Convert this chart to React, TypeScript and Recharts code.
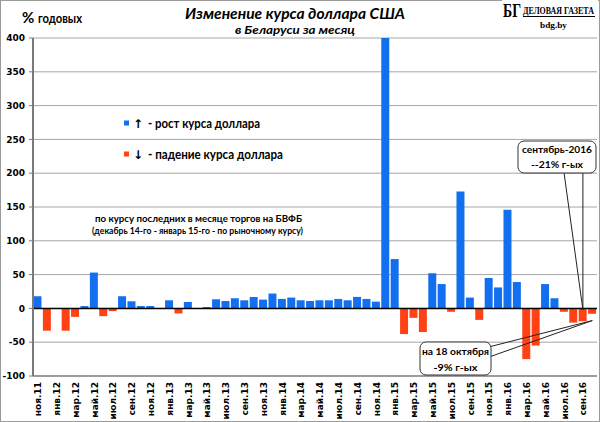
import React from "react";
import {
  BarChart,
  Bar,
  Cell,
  XAxis,
  YAxis,
  CartesianGrid,
  ReferenceLine,
} from "recharts";

const months = [
  "ноя.11", "дек.11",
  "янв.12", "фев.12", "мар.12", "апр.12", "май.12", "июн.12",
  "июл.12", "авг.12", "сен.12", "окт.12", "ноя.12", "дек.12",
  "янв.13", "фев.13", "мар.13", "апр.13", "май.13", "июн.13",
  "июл.13", "авг.13", "сен.13", "окт.13", "ноя.13", "дек.13",
  "янв.14", "фев.14", "мар.14", "апр.14", "май.14", "июн.14",
  "июл.14", "авг.14", "сен.14", "окт.14", "ноя.14", "дек.14",
  "янв.15", "фев.15", "мар.15", "апр.15", "май.15", "июн.15",
  "июл.15", "авг.15", "сен.15", "окт.15", "ноя.15", "дек.15",
  "янв.16", "фев.16", "мар.16", "апр.16", "май.16", "июн.16",
  "июл.16", "авг.16", "сен.16", "окт.16",
];

// % годовых, изменение курса за месяц
const changes = [
  18, -33,
  0, -33, -12.5, 3.5, 53, -11.5,
  -4, 18, 10.5, 3.5, 3.5, 0,
  12, -7.5, 9.5, 0, 2, 13.5,
  11, 15, 12, 17, 13, 22,
  14, 16, 12, 11, 12, 12,
  14, 12, 17, 14, 10, 400,
  73, -38, -14, -35, 52, 36,
  -5, 173, 16, -17, 45, 31,
  146, 39, -75, -55, 36, 15,
  -5, -21, -19, -8,
];

const yTicks = [-100, -50, 0, 50, 100, 150, 200, 250, 300, 350, 400];

const UP = "#1270f0";
const DOWN = "#ff4215";

const data = months.map((month, i) => ({ month, value: changes[i] }));

const MonthTick = ({ x, y, payload }: any) => (
  <text
    transform={`translate(${x + 3.5},${y}) rotate(-90)`}
    textAnchor="end"
    fontSize={9}
    fontWeight="bold"
    fontFamily="DejaVu Sans"
    fill="#000"
  >
    {payload.value}
  </text>
);

const calibri = "Lato, 'Open Sans', sans-serif";

export default function App() {
  return (
    <div style={{ position: "absolute", left: 0, top: 0, width: 600, height: 422, background: "#fff" }}>
      <BarChart
        width={600}
        height={422}
        data={data}
        margin={{ top: 38, right: 3, bottom: 0, left: 0 }}
        barCategoryGap="5%"
      >
        <CartesianGrid vertical={false} stroke="#a6a6a6" />
        <XAxis
          dataKey="month"
          interval={1}
          height={46}
          tickLine={false}
          tickSize={4}
          tickMargin={2}
          axisLine={{ stroke: "#8a8a8a", strokeWidth: 1.5 }}
          tick={<MonthTick />}
        />
        <YAxis
          width={33}
          domain={[-100, 400]}
          ticks={yTicks}
          allowDataOverflow
          interval={0}
          tickSize={4}
          tickMargin={4}
          axisLine={{ stroke: "#7a7a7a", strokeWidth: 2 }}
          tickLine={{ stroke: "#7a7a7a" }}
          tick={{ fontSize: 9, fontWeight: "bold", fontFamily: "DejaVu Sans", fill: "#000" }}
        />
        <Bar dataKey="value" isAnimationActive={false}>
          {data.map((d) => (
            <Cell key={d.month} fill={d.value >= 0 ? UP : DOWN} />
          ))}
        </Bar>
        <ReferenceLine y={0} stroke="#000" strokeWidth={1.5} />
        <ReferenceLine
          segment={[{ x: "июл.16", y: 200 }, { x: "сен.16", y: -2 }]}
          stroke="#222"
          ifOverflow="visible"
        />
        <ReferenceLine
          segment={[{ x: "сен.16", y: 200 }, { x: "сен.16", y: -2 }]}
          stroke="#222"
          ifOverflow="visible"
        />
        <ReferenceLine
          segment={[{ x: "ноя.15", y: -57 }, { x: "окт.16", y: -18 }]}
          stroke="#222"
          ifOverflow="visible"
        />
        <ReferenceLine
          segment={[{ x: "ноя.15", y: -72 }, { x: "окт.16", y: -18 }]}
          stroke="#222"
          ifOverflow="visible"
        />
      </BarChart>

      <svg
        width={600}
        height={422}
        style={{ position: "absolute", left: 0, top: 0, pointerEvents: "none" }}
      >
        <rect x={0.5} y={0.5} width={599} height={421} fill="none" stroke="#9a9a9a" />
        <rect x={502} y={0} width={96} height={4} fill="#fff" />

        {/* logo */}
        <text
          transform="translate(503,17) scale(0.75,1)"
          fontFamily="'Liberation Serif', serif"
          fontWeight="bold"
          fontSize={19}
          textLength={24}
          lengthAdjust="spacingAndGlyphs"
        >
          БГ
        </text>
        <text
          transform="translate(523,14) scale(0.78,1)"
          fontFamily="'Liberation Serif', serif"
          fontWeight="bold"
          fontSize={10}
          textLength={91}
          lengthAdjust="spacingAndGlyphs"
        >
          ДЕЛОВАЯ ГАЗЕТА
        </text>
        <line x1={523} x2={595} y1={16.5} y2={16.5} stroke="#000" strokeWidth={1} />
        <text x={540} y={27.5} fontFamily="'Liberation Serif', serif" fontWeight="bold" fontSize={9} textLength={27} lengthAdjust="spacingAndGlyphs">bdg.by</text>

        {/* headings */}
        <text x={22} y={23} fontFamily={calibri} fontWeight="bold" fontSize={15}>%</text>
        <text x={38} y={23} fontFamily={calibri} fontWeight="bold" fontSize={13} textLength={44} lengthAdjust="spacingAndGlyphs">годовых</text>
        <text x={185} y={19} fontFamily={calibri} fontWeight="bold" fontStyle="italic" fontSize={16} textLength={220} lengthAdjust="spacingAndGlyphs">Изменение курса доллара США</text>
        <text x={235} y={34} fontFamily={calibri} fontWeight="bold" fontStyle="italic" fontSize={11} textLength={120} lengthAdjust="spacingAndGlyphs">в Беларуси за месяц</text>

        {/* legend */}
        <rect x={124} y={120.5} width={5} height={5} fill={UP} />
        <text x={133} y={128} fontFamily="DejaVu Sans" fontWeight="bold" fontSize={12}>↑</text>
        <text x={148} y={127.5} fontFamily={calibri} fontWeight="bold" fontSize={12.5} textLength={112} lengthAdjust="spacingAndGlyphs">- рост курса доллара</text>
        <rect x={124} y={151.5} width={5} height={5} fill={DOWN} />
        <text x={133} y={159} fontFamily="DejaVu Sans" fontWeight="bold" fontSize={12}>↓</text>
        <text x={148} y={158.5} fontFamily={calibri} fontWeight="bold" fontSize={12.5} textLength={135} lengthAdjust="spacingAndGlyphs">- падение курса доллара</text>

        <text x={95} y={222} fontFamily={calibri} fontWeight="bold" fontSize={9} textLength={207} lengthAdjust="spacingAndGlyphs">по  курсу последних  в месяце торгов  на БВФБ</text>
        <text x={92} y={234} fontFamily={calibri} fontWeight="bold" fontSize={8.5} textLength={211} lengthAdjust="spacingAndGlyphs">(декабрь 14-го - январь 15-го - по рыночному курсу)</text>

        {/* callouts */}
        <rect x={518} y={141} width={78} height={32} rx={6} fill="#fff" stroke="#333" />
        <text x={557} y={153} textAnchor="middle" fontFamily={calibri} fontWeight="bold" fontSize={10} textLength={70} lengthAdjust="spacingAndGlyphs">сентябрь-2016</text>
        <text x={557} y={168} textAnchor="middle" fontFamily={calibri} fontWeight="bold" fontSize={10} textLength={52} lengthAdjust="spacingAndGlyphs">--21% г-ых</text>

        <rect x={420} y={342} width={71} height={33} rx={6} fill="#fff" stroke="#333" />
        <text x={455.5} y={355} textAnchor="middle" fontFamily={calibri} fontWeight="bold" fontSize={10} textLength={67} lengthAdjust="spacingAndGlyphs">на  18 октября</text>
        <text x={455.5} y={371} textAnchor="middle" fontFamily={calibri} fontWeight="bold" fontSize={10} textLength={44} lengthAdjust="spacingAndGlyphs">-9%  г-ых</text>
      </svg>
    </div>
  );
}
